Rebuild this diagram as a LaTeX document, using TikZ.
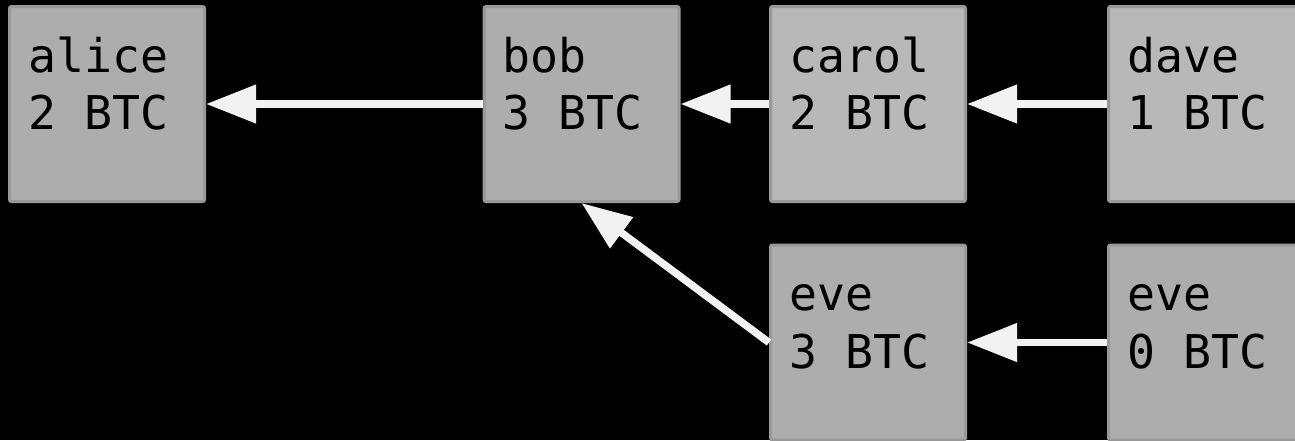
\documentclass[tikz,border=0pt]{standalone}
\usepackage{fontspec}
\setmonofont{DejaVu Sans Mono}
\usetikzlibrary{arrows.meta}
\definecolor{boxdark}{HTML}{ADADAD}
\definecolor{boxlight}{HTML}{B8B8B8}
\definecolor{boxline}{HTML}{999999}
\definecolor{arrowc}{HTML}{F2F2F2}
\tikzset{
  acct/.style={draw=boxline, line width=3pt, rounded corners=2pt, rectangle,
    minimum width=195pt, minimum height=195pt, inner sep=0pt},
  dark/.style={acct, fill=boxdark},
  light/.style={acct, fill=boxlight},
  txt/.style={anchor=base west, inner sep=0pt, text=black,
    font=\ttfamily\fontsize{46.5pt}{57pt}\selectfont},
  flow/.style={draw=arrowc, line width=7.5pt,
    -{Triangle[length=50pt,width=37pt]}, fill=arrowc}
}
\begin{document}
\begin{tikzpicture}[x=1pt,y=-1pt]
\fill[black] (0,0) rectangle (1295,440);
\useasboundingbox (0,0) rectangle (1295,440);
\begin{scope}
\clip (0,0) rectangle (1295,440);
\node[dark]  (alice) at (107,104) {};
\node[dark]  (bob)   at (581.5,104) {};
\node[light] (carol) at (868,104) {};
\node[light] (dave)  at (1206,104) {};
\node[dark]  (eve3)  at (868,342.5) {};
\node[dark]  (eve0)  at (1206,342.5) {};
\foreach \b/\one/\two in {alice/alice/2 BTC, bob/bob/3 BTC, carol/carol/2 BTC,
    dave/dave/1 BTC, eve3/eve/3 BTC, eve0/eve/0 BTC}{
  \node[txt] (\b-l1) at ([xshift=20pt,yshift=-67pt]\b.north west) {\one};
  \node[txt] (\b-l2) at ([xshift=20pt,yshift=-124.5pt]\b.north west) {\two};
}
\draw[flow] (bob.west) -- (alice.east);
\draw[flow] (carol.west) -- (bob.east);
\draw[flow] (dave.west) -- (carol.east);
\draw[flow] (eve0.west) -- (eve3.east);
\draw[flow] (eve3.west) -- (bob.south);
\end{scope}
\end{tikzpicture}
\end{document}
